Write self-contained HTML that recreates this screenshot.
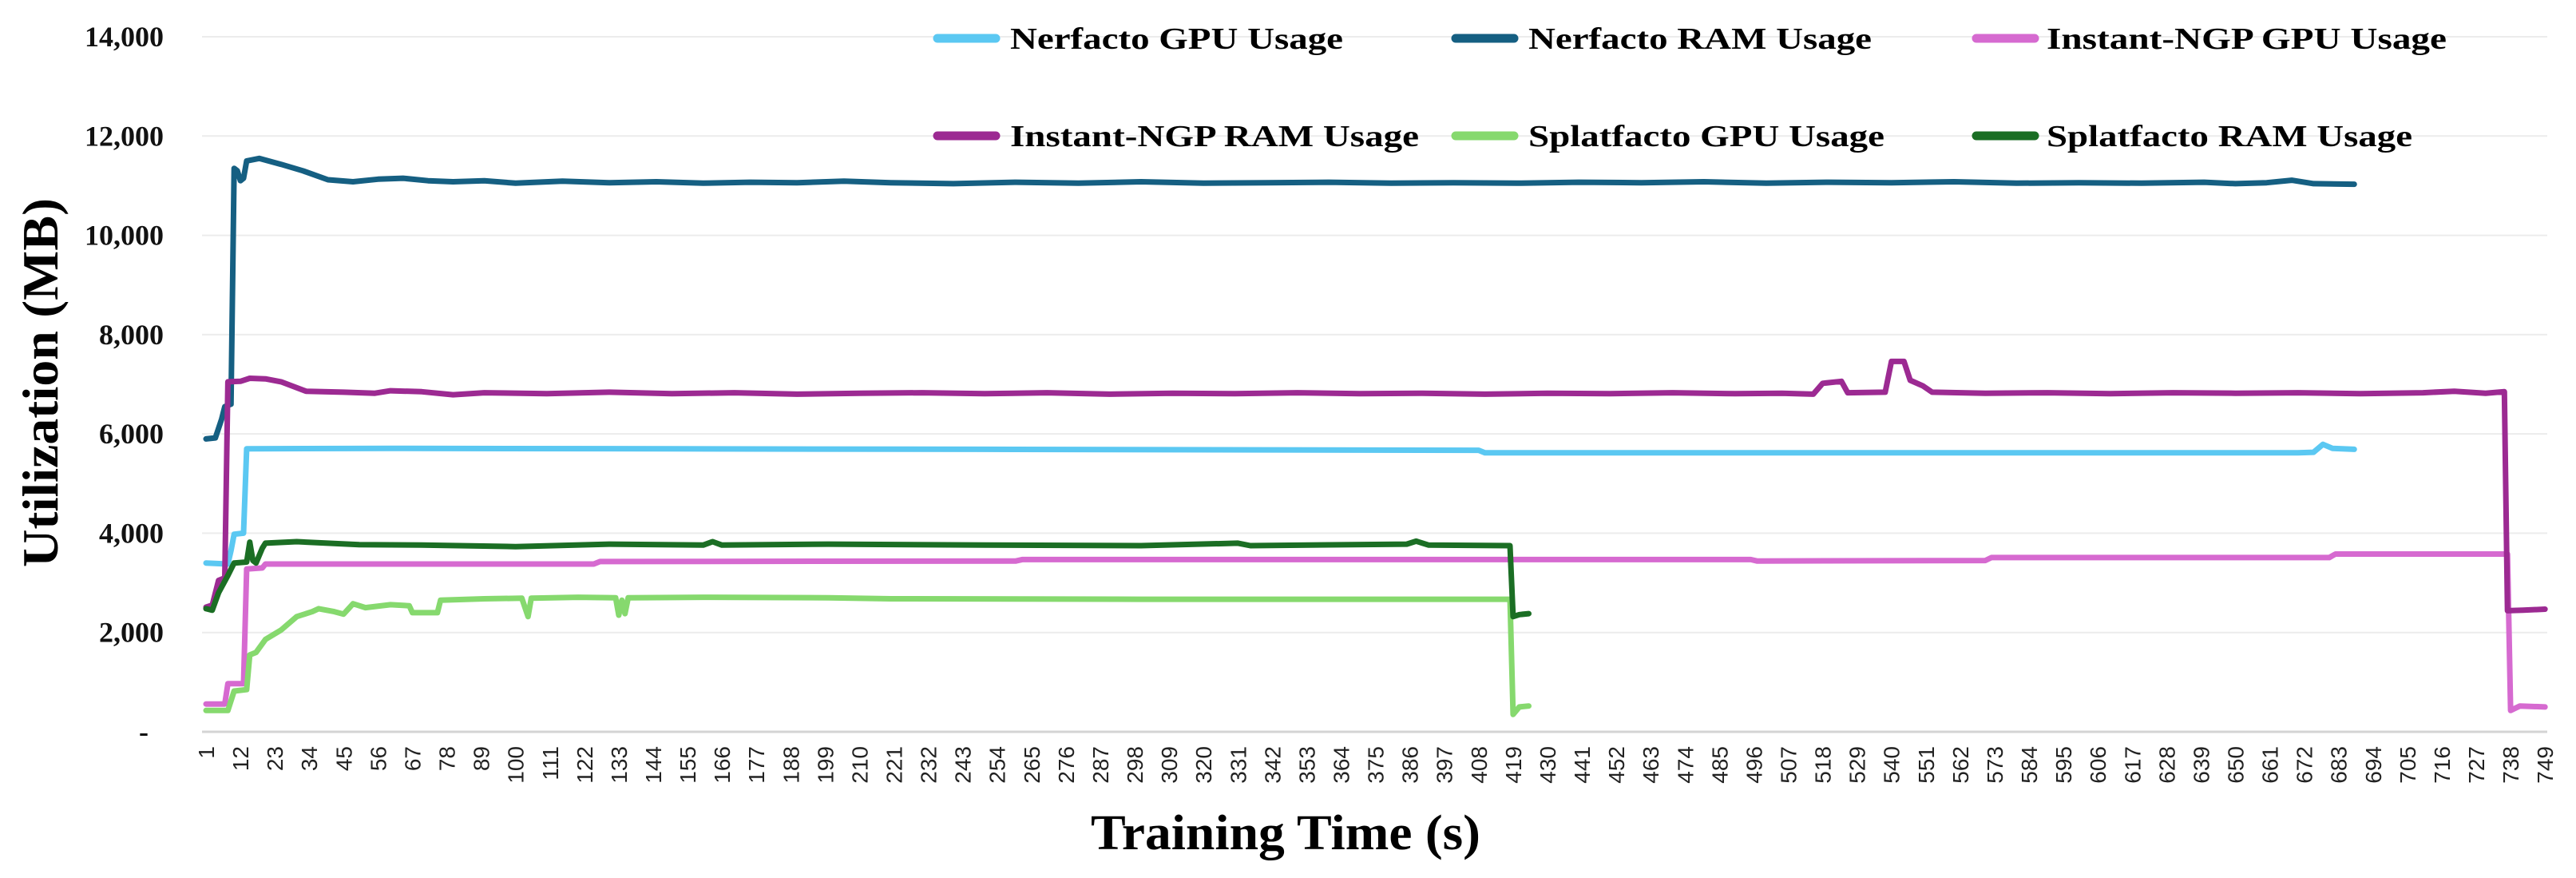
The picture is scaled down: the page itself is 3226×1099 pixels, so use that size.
<!DOCTYPE html>
<html><head><meta charset="utf-8">
<style>
html,body{margin:0;padding:0;background:#fff;}
svg{display:block;}
</style></head>
<body>
<svg id="chart" width="3226" height="1099" viewBox="0 0 3226 1099" xmlns="http://www.w3.org/2000/svg">
  <g id="grid"></g>
  <g id="yticks"></g>
  <g id="xticks"></g>
  <g id="series"></g>
  <g id="legend"></g>
  <text transform="translate(72,479) rotate(-90)" text-anchor="middle" font-family="'Liberation Serif', serif" font-weight="bold" font-size="64" textLength="462" lengthAdjust="spacingAndGlyphs" fill="#000">Utilization (MB)</text>
  <text x="1610" y="1063" text-anchor="middle" font-family="'Liberation Serif', serif" font-weight="bold" font-size="62" textLength="488" lengthAdjust="spacingAndGlyphs" fill="#000">Training Time (s)</text>
</svg>
<script>
// ---- data ----
const yTicks = [0, 2000, 4000, 6000, 8000, 10000, 12000, 14000];
const yTickLabels = ["-", "2,000", "4,000", "6,000", "8,000", "10,000", "12,000", "14,000"];
const xTickStart = 1, xTickEnd = 749, xTickStep = 11;

const nerfGpuT = [1,8,9,10,13,14,60,150,250,408,410,600,670,675,678,681,688];
const nerfGpuV = [3400,3380,3650,3980,4000,5700,5710,5700,5690,5670,5620,5620,5620,5630,5790,5710,5690];

const nerfRamT = [1,4,6,7,9,10,11,12,13,14,18,25,32,40,48,56,64,72,80,90,100,115,130,145,160,175,190,205,220,240,260,280,300,320,340,360,380,400,420,440,460,480,500,520,540,560,580,600,620,640,650,660,668,675,688];
const nerfRamV = [5900,5920,6300,6550,6600,11350,11300,11100,11150,11500,11550,11430,11300,11120,11080,11130,11150,11100,11080,11100,11050,11090,11060,11080,11050,11070,11060,11090,11060,11040,11070,11050,11080,11050,11060,11070,11050,11060,11050,11070,11060,11080,11050,11070,11060,11080,11050,11060,11050,11070,11040,11060,11110,11040,11030];

const ngpGpuT = [1,7,8,13,14,19,20,125,127,260,262,495,497,570,572,680,682,737,738,741,749];
const ngpGpuV = [560,560,970,970,3280,3300,3380,3380,3430,3440,3470,3470,3440,3450,3510,3510,3580,3580,430,520,500];

const ngpRamT = [1,3,5,7,8,12,15,20,25,33,45,55,60,70,80,90,110,130,150,170,190,210,230,250,270,290,310,330,350,370,390,410,430,450,470,490,505,515,518,524,526,538,540,544,546,550,553,570,590,610,630,650,670,690,710,720,730,736,737,742,749];
const ngpRamV = [2510,2550,3050,3100,7050,7060,7120,7110,7050,6860,6840,6820,6870,6850,6790,6830,6810,6840,6810,6830,6800,6820,6830,6810,6830,6800,6820,6810,6830,6810,6820,6800,6820,6810,6830,6810,6820,6800,7020,7060,6830,6840,7460,7460,7080,6970,6840,6820,6830,6810,6830,6820,6830,6810,6830,6860,6820,6850,2440,2450,2470];

const splGpuT = [1,8,10,14,15,17,20,25,30,35,37,42,45,48,52,60,66,67,75,76,90,102,104,105,120,132,133,134,135,136,160,200,220,300,418,419,421,424];
const splGpuV = [430,430,820,850,1550,1600,1860,2050,2320,2420,2480,2420,2370,2580,2500,2560,2540,2400,2400,2650,2680,2690,2320,2690,2710,2700,2350,2650,2380,2700,2710,2700,2680,2670,2670,350,500,520];

const splRamT = [1,3,5,8,10,14,15,16,17,19,20,30,50,70,100,130,160,163,166,200,250,300,331,335,385,388,392,418,419,421,424];
const splRamV = [2480,2450,2800,3150,3400,3420,3820,3450,3400,3700,3800,3830,3770,3760,3730,3780,3760,3830,3760,3780,3760,3750,3800,3750,3780,3840,3760,3750,2320,2360,2380];

const seriesNames = ["Nerfacto GPU Usage","Nerfacto RAM Usage","Instant-NGP GPU Usage","Instant-NGP RAM Usage","Splatfacto GPU Usage","Splatfacto RAM Usage"];
const seriesColors = ["#5bc8f2","#155f82","#d66ad0","#9c2a92","#86d96e","#1b6e24"];

// ---- scales ----
const X0 = 258, XPX = 3.916, Y0 = 916, YTOP = 46, YMAX = 14000;
function xs(t){ return X0 + (t - 1) * XPX; }
function ys(v){ return Y0 - v / YMAX * (Y0 - YTOP); }
const NS = "http://www.w3.org/2000/svg";
function mk(tag, attrs, parent){
  const e = document.createElementNS(NS, tag);
  for (const k in attrs) e.setAttribute(k, attrs[k]);
  parent.appendChild(e); return e;
}

// gridlines + y labels
const grid = document.getElementById("grid"), yt = document.getElementById("yticks");
yTicks.forEach((v, i) => {
  const l = mk("line", {x1:253, x2:3190, y1:ys(v), y2:ys(v), stroke: v===0 ? "#d4d4d4" : "#ececec", "stroke-width": v===0 ? 3 : 2}, grid);
  
  
  const t = mk("text", {x: v===0 ? 186 : 205, y: ys(v) + 12, "text-anchor": "end", "font-family": "'Liberation Serif', serif", "font-weight": "bold", "font-size": 36, fill: "#111"}, yt);
  t.textContent = yTickLabels[i];
  
  
});

// x labels
const xt = document.getElementById("xticks");
for (let t = xTickStart; t <= xTickEnd; t += xTickStep) {
  const x = xs(t);
  const e = mk("text", {transform: `translate(${x + 10},934) rotate(-90)`, "text-anchor": "end", "font-family": "'Liberation Sans', sans-serif", "font-size": 28, fill: "#222"}, xt);
  e.textContent = String(t);
  
  
}

// series
const sg = document.getElementById("series");
const allT = [nerfGpuT, nerfRamT, ngpGpuT, ngpRamT, splGpuT, splRamT];
const allV = [nerfGpuV, nerfRamV, ngpGpuV, ngpRamV, splGpuV, splRamV];
const slugs = ["nerfacto-gpu-line","nerfacto-ram-line","instant-ngp-gpu-line","instant-ngp-ram-line","splatfacto-gpu-line","splatfacto-ram-line"];
allT.forEach((T, si) => {
  const V = allV[si];
  const pts = T.map((t, i) => xs(t).toFixed(1) + "," + ys(V[i]).toFixed(1)).join(" ");
  const p = mk("polyline", {points: pts, fill: "none", stroke: seriesColors[si], "stroke-width": 7, "stroke-linejoin": "round", "stroke-linecap": "round"}, sg);
  
  
});

// legend
const lg = document.getElementById("legend");
const legSwX = [1174, 1823, 2475, 1174, 1823, 2475];
const legTxX = [1265, 1914, 2563, 1265, 1914, 2563];
const legTxW = [417, 430, 501, 512, 446, 458];
const legY = [48, 48, 48, 170, 170, 170];
seriesNames.forEach((n, i) => {
  const s = mk("line", {x1: legSwX[i], x2: legSwX[i] + 73, y1: legY[i], y2: legY[i], stroke: seriesColors[i], "stroke-width": 11, "stroke-linecap": "round"}, lg);
  
  
  const t = mk("text", {x: legTxX[i], y: legY[i] + 13, "font-family": "'Liberation Serif', serif", "font-weight": "bold", "font-size": 38, textLength: legTxW[i], lengthAdjust: "spacingAndGlyphs", fill: "#000"}, lg);
  t.textContent = n;
  
  
});
</script>
</body></html>
